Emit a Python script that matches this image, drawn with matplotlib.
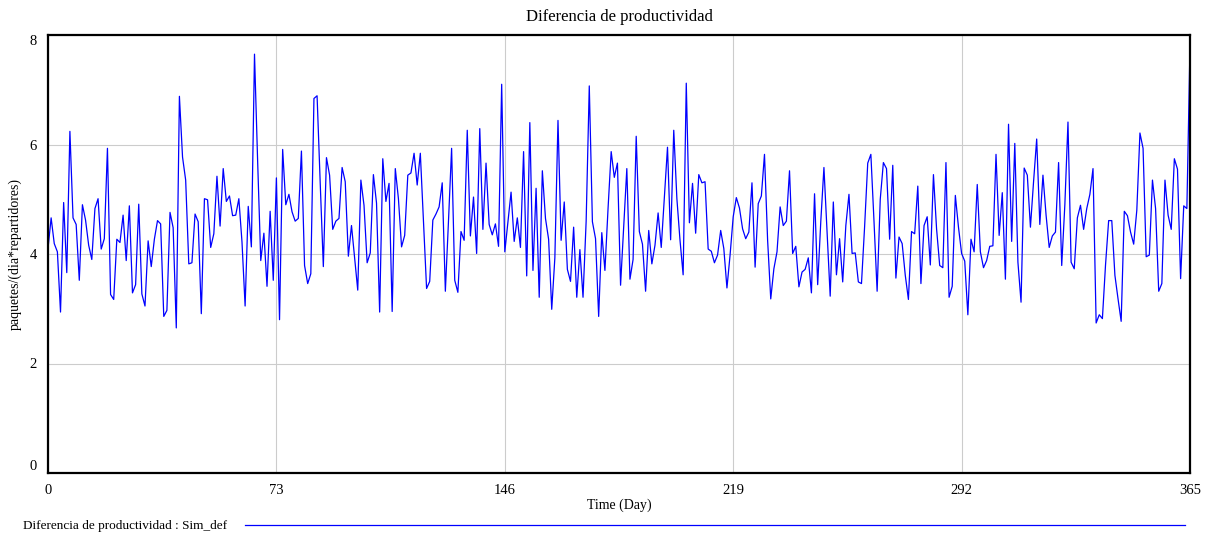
import numpy as np
import matplotlib.pyplot as plt
from matplotlib.lines import Line2D

plt.rcParams['font.family'] = ['Liberation Serif', 'DejaVu Serif']

# daily values of the productivity difference, days 0..365
dif_productividad = [
    4.10, 4.66, 4.19, 4.04, 2.94, 4.94, 3.66, 6.24, 4.66, 4.54,
    3.52, 4.90, 4.62, 4.16, 3.90, 4.83, 5.01, 4.09, 4.28, 5.93,
    3.26, 3.17, 4.27, 4.21, 4.71, 3.88, 4.88, 3.29, 3.44, 4.91,
    3.27, 3.05, 4.24, 3.77, 4.27, 4.61, 4.55, 2.86, 2.97, 4.76,
    4.48, 2.65, 6.88, 5.77, 5.35, 3.82, 3.84, 4.73, 4.59, 2.91,
    5.01, 4.99, 4.12, 4.37, 5.42, 4.51, 5.56, 4.96, 5.06, 4.70,
    4.71, 5.01, 4.22, 3.05, 4.87, 4.13, 7.65, 5.70, 3.88, 4.38,
    3.41, 4.78, 3.52, 5.39, 2.80, 5.91, 4.90, 5.09, 4.77, 4.60,
    4.65, 5.88, 3.79, 3.46, 3.64, 6.84, 6.89, 5.30, 3.77, 5.76,
    5.44, 4.45, 4.60, 4.65, 5.58, 5.32, 3.96, 4.52, 3.93, 3.34,
    5.35, 4.89, 3.84, 4.02, 5.45, 4.93, 2.94, 5.74, 4.96, 5.29,
    2.95, 5.56, 5.01, 4.13, 4.34, 5.44, 5.48, 5.84, 5.26, 5.84,
    4.60, 3.37, 3.50, 4.62, 4.73, 4.86, 5.30, 3.32, 4.60, 5.93,
    3.52, 3.30, 4.41, 4.25, 6.26, 4.33, 5.04, 4.01, 6.29, 4.45,
    5.66, 4.54, 4.35, 4.55, 4.14, 7.10, 4.04, 4.59, 5.13, 4.23,
    4.66, 4.12, 5.87, 3.60, 6.40, 3.70, 5.20, 3.21, 5.52, 4.65,
    4.27, 2.99, 3.93, 6.44, 4.25, 4.95, 3.72, 3.50, 4.49, 3.21,
    4.08, 3.21, 4.60, 7.07, 4.59, 4.28, 2.86, 4.39, 3.70, 4.83,
    5.87, 5.40, 5.66, 3.43, 4.49, 5.56, 3.54, 3.90, 6.15, 4.41,
    4.18, 3.32, 4.43, 3.82, 4.16, 4.75, 4.12, 5.05, 5.95, 4.26,
    6.26, 5.01, 4.25, 3.62, 7.12, 4.57, 5.29, 4.38, 5.45, 5.30,
    5.32, 4.09, 4.05, 3.84, 3.98, 4.43, 4.10, 3.38, 3.98, 4.68,
    5.03, 4.84, 4.46, 4.28, 4.40, 5.30, 3.76, 4.92, 5.06, 5.82,
    4.25, 3.18, 3.73, 4.04, 4.86, 4.52, 4.60, 5.52, 4.01, 4.14,
    3.40, 3.67, 3.72, 3.93, 3.29, 5.10, 3.44, 4.60, 5.58, 4.41,
    3.23, 4.95, 3.62, 4.28, 3.49, 4.52, 5.09, 4.01, 4.02, 3.49,
    3.46, 4.50, 5.66, 5.82, 4.60, 3.32, 5.00, 5.67, 5.56, 4.27,
    5.62, 3.56, 4.31, 4.19, 3.61, 3.17, 4.41, 4.37, 5.24, 3.46,
    4.52, 4.68, 3.80, 5.45, 4.46, 3.79, 3.75, 5.67, 3.21, 3.41,
    5.07, 4.49, 4.01, 3.87, 2.89, 4.27, 4.04, 5.27, 4.04, 3.75,
    3.88, 4.14, 4.15, 5.82, 4.34, 5.12, 3.54, 6.37, 4.23, 6.02,
    3.85, 3.12, 5.57, 5.44, 4.49, 5.32, 6.10, 4.54, 5.44, 4.71,
    4.12, 4.33, 4.40, 5.67, 3.79, 4.90, 6.41, 3.85, 3.73, 4.66,
    4.89, 4.45, 4.83, 5.09, 5.56, 2.74, 2.89, 2.82, 3.80, 4.61,
    4.61, 3.61, 3.18, 2.77, 4.78, 4.70, 4.40, 4.18, 4.80, 6.21,
    5.93, 3.95, 3.98, 5.35, 4.83, 3.32, 3.46, 5.35, 4.71, 4.45,
    5.74, 5.55, 3.55, 4.88, 4.83, 7.80,
]
dias = np.arange(len(dif_productividad))

x_ticks = [0, 73, 146, 219, 292, 365]
y_ticks = [0, 2, 4, 6, 8]

fig = plt.figure(figsize=(12.1, 5.37), dpi=100)
ax = fig.add_axes([48 / 1210, 64 / 537, 1142 / 1210, 438 / 537])

ax.plot(dias, dif_productividad, color='#0000ff', lw=0.9)

ax.set_xlim(0, 365)
ax.set_ylim(0, 8)
ax.set_xticks(x_ticks)
ax.set_yticks(y_ticks)
ax.grid(True, color='#cccccc', lw=0.8)
ax.set_axisbelow(True)
ax.tick_params(length=0, labelsize=10.5, pad=8)
for s in ax.spines.values():
    s.set_linewidth(1.6)
    s.set_color('black')

# keep end labels inside the axis range
ylabels = ax.get_yticklabels()
ylabels[0].set_va('bottom')
ylabels[-1].set_va('top')

ax.set_title('Diferencia de productividad', fontsize=12, pad=10)
ax.set_xlabel('Time (Day)', fontsize=10, labelpad=1)
ax.set_ylabel('paquetes/(dia*repartidores)', fontsize=10)
ax.yaxis.set_label_coords(-(48 - 22) / 1142, 0.5)

# legend row under the axes
fig.text(23 / 1210, 1 - 526 / 537, 'Diferencia de productividad : Sim_def',
         fontsize=9.5, va='center', ha='left')
fig.add_artist(Line2D([245 / 1210, 1185 / 1210], [1 - 525 / 537] * 2,
                      color='#0000ff', lw=0.9, transform=fig.transFigure))

fig.savefig('out.png', dpi=100)
